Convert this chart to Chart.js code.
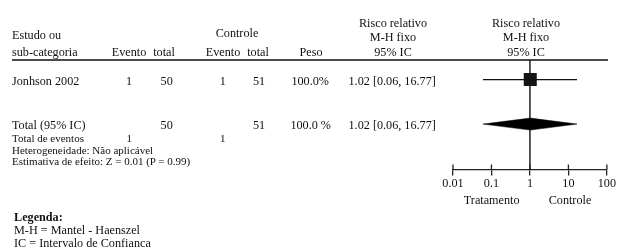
<!DOCTYPE html>
<html>
<head>
<meta charset="utf-8">
<script src="https://cdn.jsdelivr.net/npm/chart.js@4.4.1/dist/chart.umd.min.js"></script>
<style>
    html, body { margin: 0; padding: 0; background: #fff; }
    #wrap { position: relative; width: 617px; height: 251px; overflow: hidden; font-family: 'Liberation Serif', 'Times New Roman', serif; color: #111; }
    #wrap canvas { position: absolute; left: 0; top: 0; }
    .t { position: absolute; white-space: nowrap; line-height: 14px; font-size: 12.2px; }
    .s { font-size: 11px; }
    .c { transform: translateX(-50%); }
    .r { transform: translateX(-100%); }
    #hline { position: absolute; left: 12px; top: 59px; width: 596px; height: 2px; background: #4a4a4a; }
</style>
</head>
<body>
<div id="wrap">
    <div id="hline"></div>
    <canvas id="forest" width="617" height="251"></canvas>
</div>
<script>
// data
var studyNames = ['Jonhson 2002'];
var trtEvents = [1];
var trtTotals = [50];
var ctlEvents = [1];
var ctlTotals = [51];
var weights = [100.0];
var riskRatio = [1.02];
var ciLow = [0.06];
var ciHigh = [16.77];

var totalTrt = 50;
var totalCtl = 51;
var totalTrtEvents = 1;
var totalCtlEvents = 1;
var totalWeight = 100.0;
var totalRR = 1.02;
var totalLow = 0.06;
var totalHigh = 16.77;

var tickValues = [0.01, 0.1, 1, 10, 100];
var tickLabels = ['0.01', '0.1', '1', '10', '100'];

var wrap = document.getElementById('wrap');

function txt(str, x, y, cls) {
    var d = document.createElement('div');
    d.className = 't ' + (cls || '');
    d.textContent = str;
    d.style.left = x + 'px';
    d.style.top = (y - 7) + 'px';
    wrap.appendChild(d);
    return d;
}

function ciText(rr, lo, hi) {
    return rr.toFixed(2) + ' [' + lo.toFixed(2) + ', ' + hi.toFixed(2) + ']';
}

// header
txt('Estudo ou', 12, 35);
txt('sub-categoria', 12, 51.7);
txt('Controle', 237, 33, 'c');
txt('Evento', 129, 51.7, 'c');
txt('total', 164, 51.7, 'c');
txt('Evento', 223, 51.7, 'c');
txt('total', 258, 51.7, 'c');
txt('Peso', 311, 51.7, 'c');
txt('Risco relativo', 393, 22.7, 'c');
txt('M-H fixo', 393, 36.7, 'c');
txt('95% IC', 393, 51.7, 'c');
txt('Risco relativo', 526, 22.7, 'c');
txt('M-H fixo', 526, 36.7, 'c');
txt('95% IC', 526, 51.7, 'c');

// study rows
var rowY = [81];
for (var i = 0; i < studyNames.length; i++) {
    var y = rowY[i];
    txt(studyNames[i], 12, y);
    txt(String(trtEvents[i]), 129, y, 'c');
    txt(String(trtTotals[i]), 166.7, y, 'c');
    txt(String(ctlEvents[i]), 222.7, y, 'c');
    txt(String(ctlTotals[i]), 259, y, 'c');
    txt(weights[i].toFixed(1) + '%', 329, y, 'r');
    txt(ciText(riskRatio[i], ciLow[i], ciHigh[i]), 348.5, y);
}

// total row
txt('Total (95% IC)', 12, 125);
txt(String(totalTrt), 166.7, 125, 'c');
txt(String(totalCtl), 259, 125, 'c');
txt(totalWeight.toFixed(1) + ' %', 331, 125, 'r');
txt(ciText(totalRR, totalLow, totalHigh), 348.5, 125);
txt('Total de eventos', 12, 138, 's');
txt(String(totalTrtEvents), 129.3, 138, 's c');
txt(String(totalCtlEvents), 222.7, 138, 's c');
txt('Heterogeneidade: Não aplicável', 12, 149.5, 's');
txt('Estimativa de efeito: Z = 0.01 (P = 0.99)', 12, 160.5, 's');

// axis captions and legend
txt('Tratamento', 491.7, 200, 'c');
txt('Controle', 570, 200, 'c');
var leg = txt('Legenda:', 14, 217);
leg.style.fontWeight = 'bold';
txt('M-H = Mantel - Haenszel', 14, 230);
txt('IC = Intervalo de Confianca', 14, 243);

// plot
var studyRow = 1;
var totalRow = 2;
var diamondHalf = 0.135;

var refLine = {
    id: 'refLine',
    beforeDatasetsDraw: function (chart) {
        var ctx = chart.ctx;
        var xs = chart.scales.x;
        var area = chart.chartArea;
        ctx.save();
        ctx.strokeStyle = '#111';
        ctx.lineWidth = 1.4;
        var x1 = xs.getPixelForValue(1);
        ctx.beginPath();
        ctx.moveTo(x1, area.top);
        ctx.lineTo(x1, area.bottom);
        ctx.stroke();
        // upper half of the tick marks
        ctx.lineWidth = 1.3;
        ctx.strokeStyle = '#222';
        tickValues.forEach(function (v) {
            var px = xs.getPixelForValue(v);
            ctx.beginPath();
            ctx.moveTo(px, area.bottom - 5);
            ctx.lineTo(px, area.bottom);
            ctx.stroke();
        });
        ctx.restore();
    }
};

var ctx = document.getElementById('forest');
var forest = new Chart(ctx, {
    data: {
        datasets: [{
            type: 'line',
            data: [{ x: ciLow[0], y: studyRow }, { x: ciHigh[0], y: studyRow }],
            borderColor: '#111',
            borderWidth: 1.3,
            pointRadius: 0
        }, {
            type: 'scatter',
            data: [{ x: riskRatio[0], y: studyRow }],
            pointStyle: 'rect',
            pointRadius: 9.2,
            backgroundColor: '#151515',
            borderColor: '#151515',
            borderWidth: 0
        }, {
            type: 'line',
            data: [
                { x: totalLow, y: totalRow },
                { x: totalRR, y: totalRow - diamondHalf },
                { x: totalHigh, y: totalRow },
                { x: totalRR, y: totalRow + diamondHalf },
                { x: totalLow, y: totalRow }
            ],
            borderColor: '#000',
            borderWidth: 0.5,
            backgroundColor: '#000',
            fill: 'shape',
            tension: 0,
            pointRadius: 0
        }]
    },
    options: {
        responsive: false,
        devicePixelRatio: 1,
        animation: false,
        events: [],
        layout: {
            padding: { left: 453, right: 10, top: 60, bottom: 51.5 }
        },
        plugins: {
            legend: { display: false },
            tooltip: { enabled: false }
        },
        scales: {
            x: {
                type: 'logarithmic',
                min: 0.01,
                max: 100,
                afterBuildTicks: function (scale) {
                    scale.ticks = tickValues.map(function (v) { return { value: v }; });
                },
                afterFit: function (scale) {
                    scale.height = 30;
                },
                ticks: {
                    autoSkip: false,
                    maxRotation: 0,
                    padding: 1,
                    color: '#111',
                    font: { family: "'Liberation Serif', 'Times New Roman', serif", size: 12.2 },
                    callback: function (value, index) {
                        return tickLabels[index];
                    }
                },
                grid: {
                    display: true,
                    drawOnChartArea: false,
                    drawTicks: true,
                    tickLength: 6,
                    color: '#222',
                    lineWidth: 1.3
                },
                border: { display: true, color: '#222', width: 1.3 }
            },
            y: {
                type: 'linear',
                reverse: true,
                min: 0.56,
                max: 3.02,
                display: false
            }
        }
    },
    plugins: [refLine]
});
</script>
</body>
</html>
